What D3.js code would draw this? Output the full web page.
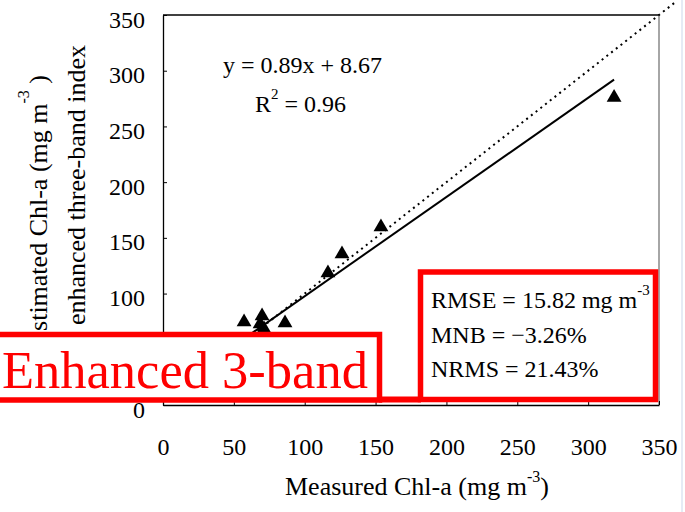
<!DOCTYPE html>
<html>
<head>
<meta charset="utf-8">
<script src="https://cdn.jsdelivr.net/npm/d3@7"></script>
<style>
  body { margin: 0; background: #fff; }
  svg { display: block; font-family: "Liberation Serif", "Times New Roman", serif; }
</style>
</head>
<body>
<div id="chart"></div>
<script>
// measured vs estimated Chl-a
let measured = [57.2, 69.9, 68.5, 71.3, 86.1, 116.4, 126.3, 153.8, 318.3];
let estimated = [74.5, 79.9, 72.7, 68.2, 73.6, 118.5, 135.5, 159.7, 276.0];

let xTicks = [0, 50, 100, 150, 200, 250, 300, 350];
let yTicks = [0, 50, 100, 150, 200, 250, 300, 350];

let slope = 0.89;
let intercept = 8.67;
let oneToOne = [50, 362];

let statLabels = ["RMSE = 15.82 mg m", "MNB = \u22123.26%", "NRMS = 21.43%"];

let width = 685;
let height = 512;

let svg = d3
  .select("#chart")
  .append("svg")
  .attr("width", width)
  .attr("height", height);

let xScale = d3.scaleLinear().domain([0, 350]).range([163, 659]);
let yScale = d3.scaleLinear().domain([0, 350]).range([405, 15]);

// frame top + right
svg.append("line")
  .attr("x1", xScale(0)).attr("x2", xScale(350))
  .attr("y1", yScale(350)).attr("y2", yScale(350))
  .attr("stroke", "#000").attr("stroke-width", 1.3);
svg.append("line")
  .attr("x1", xScale(350)).attr("x2", xScale(350))
  .attr("y1", yScale(350)).attr("y2", yScale(0))
  .attr("stroke", "#888").attr("stroke-width", 1.5);

// page edge line on the right
svg.append("line")
  .attr("x1", 682).attr("x2", 682)
  .attr("y1", 0).attr("y2", height)
  .attr("stroke", "#dde4f2").attr("stroke-width", 1.5);

let xAxis = d3.axisBottom(xScale).tickValues(xTicks).tickSizeInner(-4).tickSizeOuter(0).tickPadding(33);
let yAxis = d3.axisLeft(yScale).tickValues(yTicks).tickSizeInner(-4).tickSizeOuter(0).tickPadding(18);

let gx = svg.append("g")
  .attr("transform", "translate(0," + yScale(0) + ")")
  .call(xAxis);
let gy = svg.append("g")
  .attr("transform", "translate(" + xScale(0) + ",0)")
  .call(yAxis);

[gx, gy].forEach(function(g) {
  g.attr("font-family", null);
  g.select(".domain").attr("stroke", "#000").attr("stroke-width", 1.3);
  g.selectAll(".tick line").attr("stroke", "#000");
  g.selectAll("text")
    .attr("font-size", 24)
    .attr("fill", "#000");
});
gy.selectAll("text").attr("dy", "0.5em");

// 1:1 dotted line
svg.append("line")
  .attr("x1", xScale(oneToOne[0])).attr("y1", yScale(oneToOne[0]))
  .attr("x2", xScale(oneToOne[1])).attr("y2", yScale(oneToOne[1]))
  .attr("stroke", "#000")
  .attr("stroke-width", 2)
  .attr("stroke-dasharray", "2,4");

// regression line
let xMin = d3.min(measured);
let xMax = d3.max(measured);
svg.append("line")
  .attr("x1", xScale(xMin)).attr("y1", yScale(slope * xMin + intercept))
  .attr("x2", xScale(xMax)).attr("y2", yScale(slope * xMax + intercept))
  .attr("stroke", "#000")
  .attr("stroke-width", 2);

// points
let tri = d3.symbol().type(d3.symbolTriangle).size(95);
svg.selectAll(".pt")
  .data(measured)
  .enter()
  .append("path")
  .attr("class", "pt")
  .attr("d", tri)
  .attr("transform", function(d, i) {
    return "translate(" + xScale(d) + "," + yScale(estimated[i]) + ")";
  })
  .attr("fill", "#000");

// equation
svg.append("text")
  .attr("x", 223).attr("y", 73)
  .attr("font-size", 24)
  .text("y = " + slope + "x + " + intercept);

let r2 = svg.append("text")
  .attr("x", 255).attr("y", 112)
  .attr("font-size", 24);
r2.append("tspan").text("R");
r2.append("tspan").attr("font-size", 15).attr("dy", -13).text("2");
r2.append("tspan").attr("dy", 13).text(" = 0.96");

// y axis title (two lines)
let yt1 = svg.append("text")
  .attr("transform", "translate(47,75)rotate(-90)")
  .attr("text-anchor", "end")
  .attr("font-size", 26);
yt1.append("tspan").text("Estimated Chl-a (mg m");
yt1.append("tspan").attr("font-size", 16).attr("dy", -18).text("-3");
yt1.append("tspan").attr("dy", 18).text(" )");

svg.append("text")
  .attr("transform", "translate(85,45)rotate(-90)")
  .attr("text-anchor", "end")
  .attr("font-size", 26)
  .text("enhanced three-band index");

// x axis title
let xt = svg.append("text")
  .attr("x", 285).attr("y", 495)
  .attr("font-size", 26);
xt.append("tspan").text("Measured Chl-a (mg m");
xt.append("tspan").attr("font-size", 16).attr("dy", -13).text("-3");
xt.append("tspan").attr("dy", 13).text(")");

// red annotation boxes
svg.append("line")
  .attr("x1", 379).attr("x2", 421)
  .attr("y1", 399.5).attr("y2", 399.5)
  .attr("stroke", "#ff0000").attr("stroke-width", 6);

svg.append("rect")
  .attr("x", -10).attr("y", 334.5)
  .attr("width", 389.5).attr("height", 65.5)
  .attr("fill", "#fff")
  .attr("stroke", "#ff0000")
  .attr("stroke-width", 5.5);

svg.append("text")
  .attr("x", 2).attr("y", 388)
  .attr("font-size", 52.5)
  .attr("fill", "#ff0000")
  .text("Enhanced 3-band");

svg.append("rect")
  .attr("x", 420.5).attr("y", 272)
  .attr("width", 235).attr("height", 127.5)
  .attr("fill", "#fff")
  .attr("stroke", "#ff0000")
  .attr("stroke-width", 5.5);

let statY = [308, 343, 377];
statLabels.forEach(function(s, i) {
  let t = svg.append("text")
    .attr("x", 431).attr("y", statY[i])
    .attr("font-size", 24);
  t.append("tspan").text(s);
  if (i === 0) {
    t.append("tspan").attr("font-size", 15).attr("dy", -13).text("-3");
  }
});
</script>
</body>
</html>
